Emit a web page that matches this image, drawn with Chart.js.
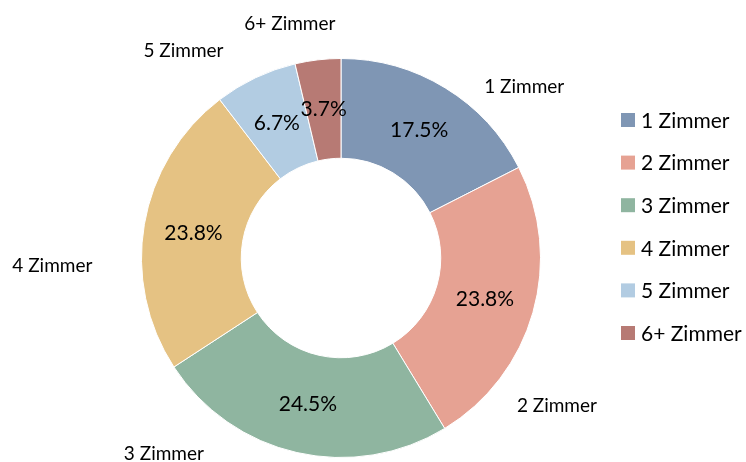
<!DOCTYPE html>
<html>
<head>
<meta charset="utf-8">
<script src="https://cdn.jsdelivr.net/npm/chart.js@4/dist/chart.umd.min.js"></script>
<style>
html,body{margin:0;padding:0;background:#fff;}
#wrap{width:746px;height:462px;position:relative;}
</style>
</head>
<body>
<div id="wrap"><canvas id="c" width="746" height="462"></canvas></div>
<script>
const categories = ["1 Zimmer", "2 Zimmer", "3 Zimmer", "4 Zimmer", "5 Zimmer", "6+ Zimmer"];
const shares = [17.5, 23.8, 24.5, 23.8, 6.7, 3.7];
const percentLabels = ["17.5%", "23.8%", "24.5%", "23.8%", "6.7%", "3.7%"];
const colors = ["#7f96b4", "#e6a293", "#8fb5a0", "#e5c283", "#b2cce2", "#b77a74"];

// style: offsets of outside category labels from the slice's outer mid point
const outerLabelOffsets = [[79,-1],[24,93],[-133,1],[-92,42],[-72,-27],[-28,-36]];
const FONT = "Lato, 'Open Sans', sans-serif";

const labelPlugin = {
  id: 'labels',
  afterDatasetsDraw(chart) {
    const ctx = chart.ctx;
    const meta = chart.getDatasetMeta(0);
    ctx.save();
    ctx.fillStyle = '#000';
    ctx.textAlign = 'center';
    ctx.textBaseline = 'middle';
    meta.data.forEach((arc, i) => {
      const p = arc.getProps(['x','y','startAngle','endAngle','innerRadius','outerRadius'], true);
      const mid = (p.startAngle + p.endAngle) / 2;
      const rm = (p.innerRadius + p.outerRadius) / 2;
      ctx.font = "21px " + FONT;
      ctx.fillText(percentLabels[i], p.x + Math.cos(mid) * rm, p.y + Math.sin(mid) * rm);
      const ox = p.x + Math.cos(mid) * p.outerRadius + outerLabelOffsets[i][0];
      const oy = p.y + Math.sin(mid) * p.outerRadius + outerLabelOffsets[i][1];
      ctx.font = "19px " + FONT;
      ctx.fillText(categories[i], ox, oy);
    });
    // legend
    ctx.textAlign = 'left';
    ctx.font = "21px " + FONT;
    categories.forEach((c, i) => {
      const y = 120 + i * 42.6;
      ctx.fillStyle = colors[i];
      ctx.fillRect(621, y - 7, 14, 14);
      ctx.fillStyle = '#000';
      ctx.fillText(c, 641, y + 1);
    });
    ctx.restore();
  }
};

new Chart(document.getElementById('c'), {
  type: 'doughnut',
  data: {
    labels: categories,
    datasets: [{
      data: shares,
      backgroundColor: colors,
      borderColor: '#ffffff',
      borderWidth: 1
    }]
  },
  options: {
    responsive: false,
    animation: false,
    cutout: '50%',
    layout: { padding: { left: 141, right: 205, top: 58, bottom: 4 } },
    plugins: { legend: { display: false }, tooltip: { enabled: false } }
  },
  plugins: [labelPlugin]
});
</script>
</body>
</html>
